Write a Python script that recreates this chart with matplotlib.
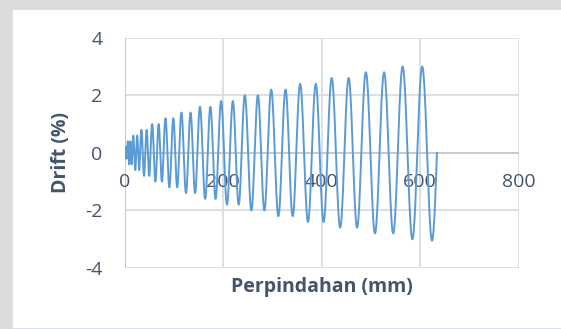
import numpy as np
import matplotlib
matplotlib.use("Agg")
import matplotlib.pyplot as plt
from matplotlib.patches import Rectangle

# protokol pembebanan: 2 siklus per level drift (%)
level_drift = [0.2, 0.4, 0.6, 0.8, 1.0, 1.2, 1.4, 1.6, 1.8, 2.0, 2.2, 2.4, 2.6, 2.8, 3.0]
siklus_per_level = 2
drift_pos = [a for a in level_drift for _ in range(siklus_per_level)]
drift_neg = list(drift_pos)
drift_neg[-1] = 3.05          # siklus terakhir turun sedikit lebih dalam
tinggi_mm = 330               # tinggi benda uji -> perpindahan = drift * tinggi

x_ticks = [0, 200, 400, 600, 800]
y_ticks = [-4, -2, 0, 2, 4]

warna_teks = "#44546a"
warna_grid = "#d9dde4"
warna_garis = "#5b9bd5"

# susun kurva siklik
xs, ys = [], []
x0 = 0.0
for ap, an in zip(drift_pos, drift_neg):
    a = 0.5 * (ap + an)
    L = 4 * a / 100 * tinggi_mm          # perpindahan kumulatif satu siklus
    t = np.linspace(0, 1, 80)
    s = np.sin(2 * np.pi * t)
    y = np.where(s >= 0, ap * s, an * s)
    xs.append(x0 + t * L)
    ys.append(y)
    x0 += L
xs = np.concatenate(xs)
ys = np.concatenate(ys)

fig = plt.figure(figsize=(5.61, 3.29), dpi=100)
fig.patch.set_facecolor("#dbdbdb")
fig.patches.append(Rectangle((12 / 561, 0), 1, 1 - 8.5 / 329, transform=fig.transFigure,
                             facecolor="white", edgecolor="#d6dbe3", lw=1.2, zorder=-10))

ax = fig.add_axes([124.5 / 561, 1 - 268 / 329, (518.8 - 124.5) / 561, (268 - 37.7) / 329])
ax.set_facecolor("none")
ax.set_xlim(0, 800)
ax.set_ylim(-4, 4)
for s in ax.spines.values():
    s.set_visible(False)

for xv in x_ticks[1:]:
    ax.axvline(xv, color=warna_grid, lw=1.3, zorder=1)
for yv in y_ticks:
    ax.axhline(yv, color=warna_grid, lw=1.3, zorder=1)
ax.axhline(0, color="#c3c9d2", lw=1.3, zorder=1)
ax.axvline(0, color="#b8c3d4", lw=1.3, zorder=1)

ax.plot(xs, ys, color=warna_garis, lw=1.4, zorder=3)

ax.set_xticks([])
ax.set_yticks(y_ticks)
ax.set_yticklabels([str(v) for v in y_ticks], fontsize=14, color=warna_teks, family="Open Sans")
ax.tick_params(axis="y", length=0, pad=16)

for xv in x_ticks:
    ax.annotate(str(xv), (xv, 0), xytext=(0, -21.2), textcoords="offset points",
                ha="center", va="center", fontsize=14, color=warna_teks,
                family="Open Sans", zorder=2)

fig.text(60.8 / 561, 1 - 152.7 / 329, "Drift (%)", rotation=90, ha="center", va="center",
         fontsize=14, fontweight="bold", color=warna_teks, family="Open Sans")
fig.text(321.5 / 561, 1 - 287 / 329, "Perpindahan (mm)", ha="center", va="center",
         fontsize=14, fontweight="bold", color=warna_teks, family="Open Sans")

fig.savefig("out.png", dpi=100, facecolor=fig.get_facecolor())
